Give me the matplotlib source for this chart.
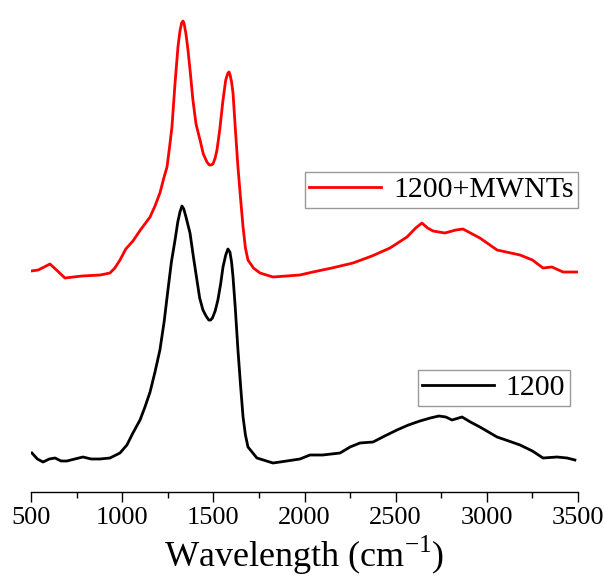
import numpy as np
import matplotlib
matplotlib.use('Agg')
import matplotlib.pyplot as plt
from matplotlib.ticker import MultipleLocator

plt.rcParams['font.family'] = ['Liberation Serif', 'DejaVu Serif']
plt.rcParams['mathtext.fontset'] = 'custom'
plt.rcParams['mathtext.rm'] = 'Liberation Serif'

# Raman shift (cm^-1) and intensity (a.u., offset stacked)
wn_mwnt = [500, 540, 604, 640, 686, 780, 880, 933, 960, 988, 1020, 1059, 1100, 1153,
           1180, 1207, 1230, 1246, 1260, 1273, 1290, 1306, 1317, 1326, 1334, 1340,
           1350, 1361, 1375, 1388, 1405, 1427, 1445, 1465, 1478, 1487, 1498, 1510,
           1520, 1535, 1553, 1568, 1580, 1586, 1592, 1600, 1608, 1620, 1635, 1650,
           1663, 1676, 1690, 1720, 1756, 1827, 1975, 2046, 2150, 2266, 2370, 2469,
           2562, 2610, 2644, 2675, 2705, 2770, 2830, 2869, 2910, 2962, 3056, 3182,
           3250, 3308, 3357, 3418, 3494]
int_mwnt = [221, 222, 228, 222, 214, 216, 217, 219, 224, 232, 243, 251, 262, 275,
            286, 299, 315, 325, 345, 365, 409, 445, 461, 469, 471, 468,
            458, 442, 417, 392, 368, 352, 338, 330, 327, 327, 328, 334,
            342, 362, 392, 412, 419, 420, 417, 410, 399, 365, 325, 292,
            265, 244, 232, 224, 219, 215, 217, 220, 224, 229, 236, 244,
            255, 264, 269, 264, 261, 259, 262, 263, 259, 254, 242, 237,
            232, 224, 225, 220, 220]

wn_1200 = [505, 535, 566, 600, 632, 665, 697, 740, 785, 830, 878, 933, 988, 1026,
           1059, 1098, 1125, 1153, 1180, 1207, 1230, 1251, 1270, 1290, 1305, 1317,
           1328, 1338, 1350, 1372, 1390, 1410, 1425, 1443, 1460, 1475, 1485, 1495,
           1510, 1525, 1540, 1553, 1568, 1580, 1591, 1600, 1608, 1620, 1635, 1650,
           1663, 1676, 1690, 1739, 1827, 1866, 1975, 2030, 2100, 2195, 2250, 2304,
           2376, 2440, 2507, 2570, 2633, 2690, 2737, 2775, 2809, 2864, 2910, 2962,
           3056, 3120, 3182, 3250, 3308, 3385, 3440, 3483]
int_1200 = [39, 33, 30, 33, 34, 31, 31, 33, 35, 33, 33, 34, 39, 47,
            59, 72, 85, 100, 120, 142, 170, 202, 230, 252, 270, 280,
            286, 283, 275, 259, 236, 212, 194, 182, 176, 172, 172, 174,
            181, 192, 208, 225, 237, 243, 240, 230, 215, 185, 142, 105,
            75, 57, 45, 34, 29, 30, 33, 37, 37, 39, 45, 49,
            50, 56, 62, 67, 71, 74, 76, 75, 72, 75, 70, 65,
            55, 51, 47, 41, 34, 35, 34, 32]

fig = plt.figure(figsize=(6.05, 5.79), dpi=100)
ax = fig.add_axes([31 / 605, 87 / 579, 547 / 605, 482 / 579])

l_red, = ax.plot(wn_mwnt, int_mwnt, color='#ff0000', lw=2, label='1200+MWNTs')
l_blk, = ax.plot(wn_1200, int_1200, color='black', lw=2, label='1200')

ax.set_xlim(500, 3500)
ax.set_ylim(0, 482)
ax.xaxis.set_major_locator(MultipleLocator(500))
ax.xaxis.set_minor_locator(MultipleLocator(250))
ax.tick_params(axis='x', which='major', direction='out', length=7, width=1,
               labelsize=19, pad=4)
ax.tick_params(axis='x', which='minor', direction='out', length=4, width=1)
ax.set_yticks([])
for s in ['left', 'top', 'right']:
    ax.spines[s].set_visible(False)
ax.spines['bottom'].set_linewidth(1)

ax.set_xlabel(r'Wavelength (cm$^{\mathregular{-1}}$)', fontsize=26, labelpad=3)

leg_kw = dict(fontsize=21.5, fancybox=False, edgecolor='#999999', framealpha=1,
              borderpad=0.15, handlelength=2.4, handletextpad=0.4,
              borderaxespad=0, loc='upper right')
leg1 = ax.legend(handles=[l_red], bbox_to_anchor=(1.0, 0.664), **leg_kw)
leg1.get_frame().set_linewidth(1)
ax.add_artist(leg1)
leg2 = ax.legend(handles=[l_blk], bbox_to_anchor=(0.985, 0.253), **leg_kw)
leg2.get_frame().set_linewidth(1)

fig.savefig('out.png', dpi=100)
